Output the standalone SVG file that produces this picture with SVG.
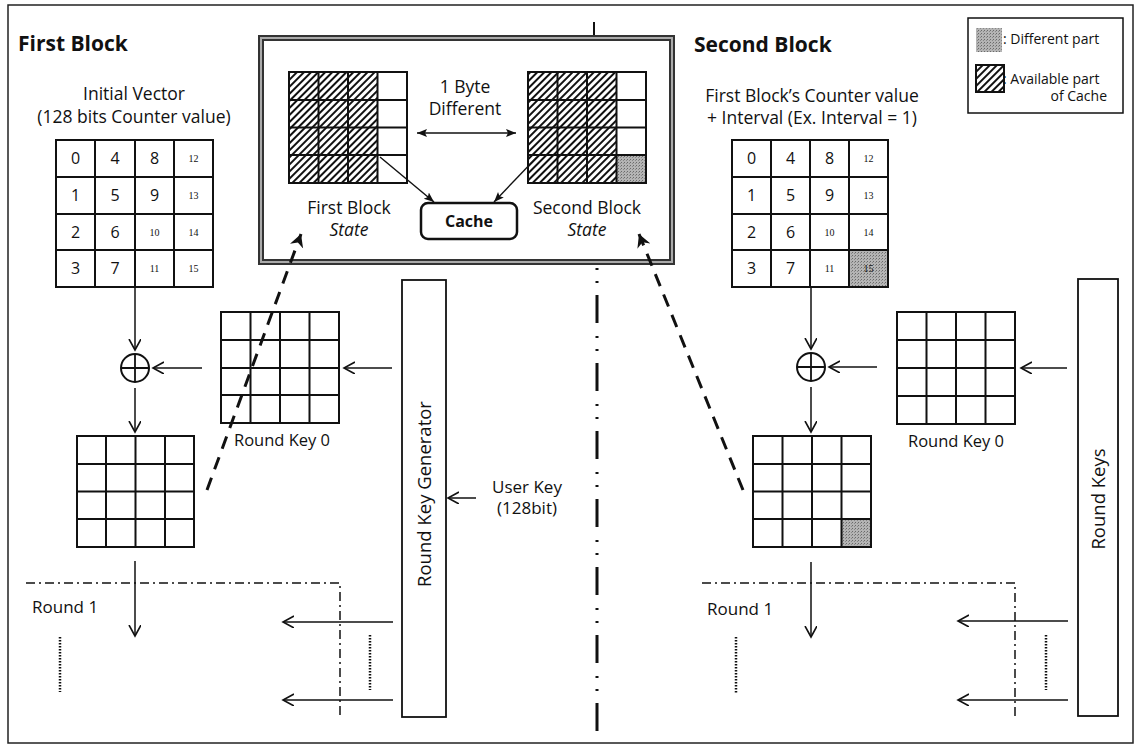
<svg xmlns="http://www.w3.org/2000/svg" width="1136" height="745" viewBox="0 0 1136 745">
<style>
text{font-family:"Open Sans","Noto Sans","Liberation Sans",sans-serif;fill:#111}
.t{font-size:17.5px}
.c{text-anchor:middle}
.b{font-weight:bold}
.n{font-size:16px;text-anchor:middle}
.s{font-family:"Liberation Serif",serif;font-size:10px;text-anchor:middle}
.g{fill:none;stroke:#111;stroke-width:2}
.a{fill:none;stroke:#111;stroke-width:1.5;marker-end:url(#open)}
.dd{fill:none;stroke:#111;stroke-width:1.5;stroke-dasharray:9 4 2 4}
.dt{fill:none;stroke:#111;stroke-width:2.5;stroke-dasharray:1.5 1.5}
</style>
<defs>
<pattern id="hatch" width="5" height="5" patternUnits="userSpaceOnUse" patternTransform="rotate(45)">
<rect width="5" height="5" fill="#fff"/>
<line x1="1" y1="0" x2="1" y2="5" stroke="#111" stroke-width="2"/>
</pattern>
<pattern id="stip" width="3" height="3" patternUnits="userSpaceOnUse">
<rect width="3" height="3" fill="#b4b4b4"/>
<rect x="0" y="0" width="1" height="1" fill="#6a6a6a"/>
<rect x="2" y="1" width="1" height="1" fill="#888"/>
</pattern>
<marker id="open" markerUnits="userSpaceOnUse" markerWidth="14" markerHeight="14" refX="11" refY="6" orient="auto">
<path d="M0,0 L11,6 L0,12" fill="none" stroke="#111" stroke-width="1.6"/>
</marker>
<marker id="solid" markerUnits="userSpaceOnUse" markerWidth="12" markerHeight="10" refX="10" refY="4" orient="auto-start-reverse">
<path d="M0,0 L10,4 L0,8 L2,4 z" fill="#111"/>
</marker>
<marker id="thick" markerUnits="userSpaceOnUse" markerWidth="16" markerHeight="16" refX="13" refY="7" orient="auto">
<path d="M0,0 L13,7 L0,14 L4,7 z" fill="#111"/>
</marker>
</defs>
<rect width="1136" height="745" fill="#fff"/>
<rect x="8" y="5" width="1125" height="738" fill="none" stroke="#222" stroke-width="1.5"/>

<g id="titles">
<text x="18" y="51" class="b" font-size="21">First Block</text>
<text x="694" y="52" class="b" font-size="21">Second Block</text>
</g>

<g id="legend">
<rect x="968" y="18" width="155" height="95" fill="#fff" stroke="#111" stroke-width="1.5"/>
<rect x="976" y="28" width="26" height="24" fill="url(#stip)"/>
<text x="1003" y="44" font-size="14">: Different part</text>
<rect x="976" y="65" width="28" height="27" fill="url(#hatch)" stroke="#111" stroke-width="2"/>
<text x="1003" y="84" font-size="14">: Available part</text>
<text x="1107" y="101" font-size="14" text-anchor="end">of Cache</text>
</g>

<g id="cache-box">
<rect x="261" y="38" width="411" height="224" fill="#fff" stroke="#333" stroke-width="6"/>
<rect x="261" y="38" width="411" height="224" fill="none" stroke="#aaa" stroke-width="2"/>
<rect x="289" y="72" width="88.5" height="111" fill="url(#hatch)"/>
<path class="g" d="M289,72H407V183H289Z M318.5,72V183 M348,72V183 M377.5,72V183 M289,100H407 M289,127.5H407 M289,155H407"/>
<rect x="528" y="72" width="88.5" height="111" fill="url(#hatch)"/>
<rect x="616.5" y="155" width="29.5" height="28" fill="url(#stip)"/>
<path class="g" d="M528,72H646V183H528Z M557.5,72V183 M587,72V183 M616.5,72V183 M528,100H646 M528,127.5H646 M528,155H646"/>
<text x="465" y="93" class="t c">1 Byte</text>
<text x="465" y="115" class="t c">Different</text>
<text x="349" y="214" class="t c">First Block</text>
<text x="349" y="236" class="t c" font-style="italic">State</text>
<text x="587" y="214" class="t c">Second Block</text>
<text x="587" y="236" class="t c" font-style="italic">State</text>
</g>

<g id="cache">
<rect x="421" y="203" width="96" height="36" rx="7" fill="#fff" stroke="#111" stroke-width="2.5"/>
<text x="469" y="227" class="c b" font-size="16">Cache</text>
</g>

<g id="iv-left">
<text x="134" y="100" class="t c">Initial Vector</text>
<text x="134" y="123" class="t c">(128 bits Counter value)</text>
<path class="g" d="M56,140H213V287H56Z M95,140V287 M135,140V287 M174,140V287 M56,177H213 M56,214H213 M56,250H213"/>
<text x="75.5" y="164" class="n">0</text><text x="115" y="164" class="n">4</text><text x="154.5" y="164" class="n">8</text><text x="193.5" y="162" class="s">12</text>
<text x="75.5" y="201" class="n">1</text><text x="115" y="201" class="n">5</text><text x="154.5" y="201" class="n">9</text><text x="193.5" y="199" class="s">13</text>
<text x="75.5" y="238" class="n">2</text><text x="115" y="238" class="n">6</text><text x="154.5" y="236" class="s">10</text><text x="193.5" y="236" class="s">14</text>
<text x="75.5" y="274" class="n">3</text><text x="115" y="274" class="n">7</text><text x="154.5" y="272" class="s">11</text><text x="193.5" y="272" class="s">15</text>
</g>

<g id="iv-right">
<text x="812" y="102" class="t c">First Block’s Counter value</text>
<text x="812" y="124" class="t c">+ Interval (Ex. Interval = 1)</text>
<rect x="849" y="250" width="39" height="37" fill="url(#stip)"/>
<path class="g" d="M732,140H888V287H732Z M771,140V287 M810,140V287 M849,140V287 M732,177H888 M732,214H888 M732,250H888"/>
<text x="751.5" y="164" class="n">0</text><text x="790.5" y="164" class="n">4</text><text x="829.5" y="164" class="n">8</text><text x="868.5" y="162" class="s">12</text>
<text x="751.5" y="201" class="n">1</text><text x="790.5" y="201" class="n">5</text><text x="829.5" y="201" class="n">9</text><text x="868.5" y="199" class="s">13</text>
<text x="751.5" y="238" class="n">2</text><text x="790.5" y="238" class="n">6</text><text x="829.5" y="236" class="s">10</text><text x="868.5" y="236" class="s">14</text>
<text x="751.5" y="274" class="n">3</text><text x="790.5" y="274" class="n">7</text><text x="829.5" y="272" class="s">11</text><text x="868.5" y="272" class="s">15</text>
</g>

<g id="xor-left">
<circle cx="135" cy="368" r="14" fill="#fff" stroke="#111" stroke-width="2"/>
<path d="M121,368H149 M135,354V382" stroke="#111" stroke-width="1.8"/>
</g>
<g id="xor-right">
<circle cx="811" cy="367" r="14" fill="#fff" stroke="#111" stroke-width="2"/>
<path d="M797,367H825 M811,353V381" stroke="#111" stroke-width="1.8"/>
</g>

<g id="roundkey0-left">
<path class="g" d="M221,312H339V423H221Z M250.5,312V423 M280,312V423 M309.5,312V423 M221,340H339 M221,368H339 M221,395H339"/>
<text x="282" y="446" class="c" font-size="16.5">Round Key 0</text>
</g>
<g id="roundkey0-right">
<path class="g" d="M897,312H1015V424H897Z M926.5,312V424 M956,312V424 M985.5,312V424 M897,340H1015 M897,368H1015 M897,396H1015"/>
<text x="956" y="447" class="c" font-size="16.5">Round Key 0</text>
</g>

<g id="state-left">
<path class="g" d="M77,436H194V547H77Z M106,436V547 M135.5,436V547 M165,436V547 M77,464H194 M77,491.5H194 M77,519H194"/>
</g>
<g id="state-right">
<rect x="841.5" y="519" width="29.5" height="28" fill="url(#stip)"/>
<path class="g" d="M753,436H871V547H753Z M782.5,436V547 M812,436V547 M841.5,436V547 M753,464H871 M753,491.5H871 M753,519H871"/>
</g>

<g id="round-key-generator">
<rect x="402" y="280" width="44" height="437" fill="#fff" stroke="#111" stroke-width="1.8"/>
<text transform="translate(431,494) rotate(-90)" class="c" font-size="18.5">Round Key Generator</text>
</g>
<g id="round-keys">
<rect x="1078" y="279" width="40" height="437" fill="#fff" stroke="#111" stroke-width="1.8"/>
<text transform="translate(1105,499) rotate(-90)" class="c" font-size="18.5">Round Keys</text>
</g>

<g id="user-key">
<text x="527" y="493" class="c" font-size="17">User Key</text>
<text x="527" y="514" class="c" font-size="17">(128bit)</text>
</g>

<g id="round1-left">
<text x="32" y="613" font-size="17">Round 1</text>
</g>
<g id="round1-right">
<text x="707" y="615" font-size="17">Round 1</text>
</g>

<g id="connectors">
<line x1="594" y1="22" x2="594" y2="35" stroke="#111" stroke-width="2"/>
<line x1="597" y1="268" x2="597" y2="741" stroke="#111" stroke-width="3" stroke-dasharray="2 11 2 12 28 13"/>
<line x1="417" y1="133" x2="516" y2="133" stroke="#111" stroke-width="1.6" marker-start="url(#solid)" marker-end="url(#solid)"/>
<line x1="380" y1="157" x2="434" y2="202" stroke="#111" stroke-width="1.4" marker-end="url(#solid)"/>
<line x1="537" y1="157" x2="494" y2="202" stroke="#111" stroke-width="1.4" marker-end="url(#solid)"/>
<line x1="135" y1="287" x2="135" y2="350" class="a" stroke-width="1"/>
<line x1="811" y1="287" x2="811" y2="349" class="a"/>
<line x1="202" y1="368" x2="153" y2="368" class="a"/>
<line x1="877" y1="367" x2="829" y2="367" class="a"/>
<line x1="135" y1="388" x2="135" y2="432" class="a"/>
<line x1="811" y1="387" x2="811" y2="432" class="a"/>
<line x1="392" y1="368" x2="344" y2="368" class="a"/>
<line x1="1067" y1="368" x2="1021" y2="368" class="a"/>
<line x1="476" y1="498" x2="448" y2="498" class="a"/>
<line x1="135" y1="561" x2="135" y2="636" class="a"/>
<line x1="811" y1="562" x2="811" y2="637" class="a"/>
<line x1="393" y1="622" x2="283" y2="622" class="a"/>
<line x1="393" y1="700" x2="283" y2="700" class="a"/>
<line x1="1068" y1="621" x2="958" y2="621" class="a"/>
<line x1="1068" y1="700" x2="958" y2="700" class="a"/>
<path class="dd" d="M26,583H340V717"/>
<path class="dd" d="M702,583H1015V717"/>
<line x1="60" y1="637" x2="60" y2="692" class="dt"/>
<line x1="370" y1="635" x2="370" y2="690" class="dt"/>
<line x1="736" y1="637" x2="736" y2="693" class="dt"/>
<line x1="1046" y1="635" x2="1046" y2="690" class="dt"/>
<line x1="207" y1="490" x2="301" y2="234" stroke="#111" stroke-width="3" stroke-dasharray="13 9" marker-end="url(#thick)"/>
<line x1="743" y1="490" x2="639" y2="234" stroke="#111" stroke-width="3" stroke-dasharray="13 9" marker-end="url(#thick)"/>
</g>
</svg>
